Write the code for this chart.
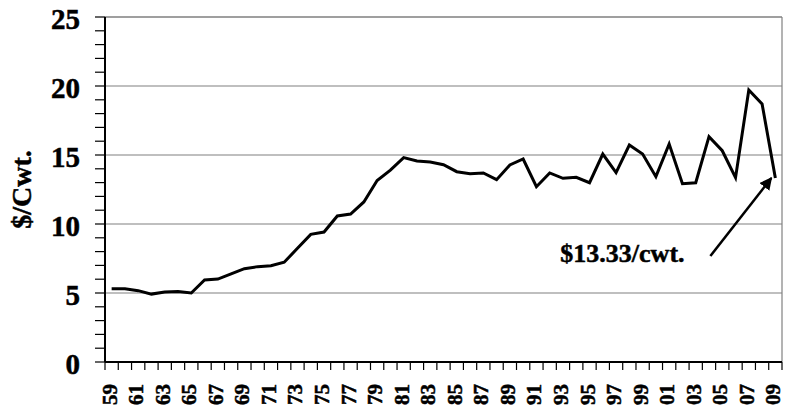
<!DOCTYPE html>
<html>
<head>
<meta charset="utf-8">
<script src="https://cdn.jsdelivr.net/npm/d3@7"></script>
<style>
  body { margin: 0; background: #fff; }
  text { font-family: "Liberation Serif", "Times New Roman", serif; font-weight: bold; fill: #000; stroke: #000; stroke-width: 0.5px; }
</style>
</head>
<body>
<div class="chart"></div>
<script>
var years = d3.range(1959, 2010);
var prices = [
  5.31, 5.31, 5.17, 4.92, 5.07, 5.1, 5.0, 5.94, 6.01, 6.38,
  6.76, 6.91, 6.98, 7.23, 8.24, 9.25, 9.42, 10.58, 10.72, 11.6,
  13.15, 13.9, 14.81, 14.57, 14.49, 14.3, 13.79, 13.65, 13.7, 13.21,
  14.28, 14.71, 12.7, 13.7, 13.31, 13.38, 12.99, 15.07, 13.72, 15.72,
  15.07, 13.43, 15.8, 12.92, 12.99, 16.33, 15.31, 13.36, 19.71, 18.7,
  13.33
];
var yTicks = [0, 5, 10, 15, 20, 25];
var yLabel = "$/Cwt.";
var note = "$13.33/cwt.";

var width = 785, height = 408;
var margin = { top: 17, right: 3, bottom: 46, left: 105 };

var svg = d3
  .select(".chart")
  .append("svg")
  .attr("width", width)
  .attr("height", height);

var x = d3
  .scaleBand()
  .domain(years)
  .range([margin.left, width - margin.right])
  .padding(0);

var y = d3
  .scaleLinear()
  .domain([0, 25])
  .range([height - margin.bottom, margin.top]);

var cx = function (yr) {
  return x(yr) + x.bandwidth() / 2;
};

// gridlines
svg
  .selectAll(".grid")
  .data(yTicks.filter(function (d) { return d > 0; }))
  .enter()
  .append("line")
  .attr("x1", margin.left)
  .attr("x2", width - margin.right)
  .attr("y1", function (d) { return y(d); })
  .attr("y2", function (d) { return y(d); })
  .style("stroke", function (d) { return d === 25 ? "#404040" : "#808080"; })
  .style("stroke-width", 1.2);

// right border
svg
  .append("line")
  .attr("x1", width - margin.right)
  .attr("x2", width - margin.right)
  .attr("y1", y(25))
  .attr("y2", y(0))
  .style("stroke", "#808080")
  .style("stroke-width", 1.2);

// y ticks (major + minor)
svg
  .selectAll(".ytick")
  .data(d3.range(0, 26))
  .enter()
  .append("line")
  .attr("x1", margin.left - 10)
  .attr("x2", margin.left)
  .attr("y1", function (d) { return y(d); })
  .attr("y2", function (d) { return y(d); })
  .style("stroke", "#000")
  .style("stroke-width", 1.2);

svg
  .selectAll(".ylab")
  .data(yTicks)
  .enter()
  .append("text")
  .attr("x", 80)
  .attr("y", function (d) { return y(d) + 12; })
  .attr("text-anchor", "end")
  .style("font-size", "29px")
  .text(function (d) { return d; });

svg
  .append("text")
  .attr("transform", "translate(31," + (y(12.5)) + ") rotate(-90)")
  .attr("text-anchor", "middle")
  .style("font-size", "28px")
  .text(yLabel);

// x ticks at category boundaries
var bounds = years.map(function (d) { return x(d); }).concat([width - margin.right]);
svg
  .selectAll(".xtick")
  .data(bounds)
  .enter()
  .append("line")
  .attr("x1", function (d) { return d; })
  .attr("x2", function (d) { return d; })
  .attr("y1", y(0))
  .attr("y2", y(0) + 8)
  .style("stroke", "#000")
  .style("stroke-width", 1.2);

svg
  .selectAll(".xlab")
  .data(years.filter(function (d, i) { return i % 2 === 0; }))
  .enter()
  .append("text")
  .attr("transform", function (d) {
    return "translate(" + (cx(d) + 5) + "," + (y(0) + 22) + ") rotate(-90)";
  })
  .attr("text-anchor", "end")
  .style("font-size", "21px")
  .text(function (d) { return String(d).slice(2); });

// axes lines
svg
  .append("line")
  .attr("x1", margin.left)
  .attr("x2", margin.left)
  .attr("y1", y(25))
  .attr("y2", y(0))
  .style("stroke", "#000")
  .style("stroke-width", 2);
svg
  .append("line")
  .attr("x1", margin.left)
  .attr("x2", width - margin.right)
  .attr("y1", y(0))
  .attr("y2", y(0))
  .style("stroke", "#000")
  .style("stroke-width", 2);

// price line
var line = d3
  .line()
  .x(function (d, i) { return cx(years[i]); })
  .y(function (d) { return y(d); });

svg
  .append("path")
  .datum(prices)
  .attr("d", line)
  .style("fill", "none")
  .style("stroke", "#000")
  .style("stroke-width", 3)
  .style("stroke-linejoin", "miter");

// annotation
svg
  .append("defs")
  .append("marker")
  .attr("id", "arrow")
  .attr("viewBox", "0 0 10 10")
  .attr("refX", 9)
  .attr("refY", 5)
  .attr("markerWidth", 5)
  .attr("markerHeight", 5)
  .attr("orient", "auto")
  .append("path")
  .attr("d", "M0,0L10,5L0,10Z")
  .style("fill", "#000");

var lastYear = years[years.length - 1];
var tipX = cx(lastYear) - 4,
  tipY = y(prices[prices.length - 1]);

svg
  .append("line")
  .attr("x1", tipX - 61)
  .attr("y1", tipY + 78)
  .attr("x2", tipX)
  .attr("y2", tipY)
  .style("stroke", "#000")
  .style("stroke-width", 2.5)
  .attr("marker-end", "url(#arrow)");

svg
  .append("text")
  .attr("x", tipX - 211)
  .attr("y", tipY + 84)
  .style("font-size", "26px")
  .text(note);
</script>
</body>
</html>
